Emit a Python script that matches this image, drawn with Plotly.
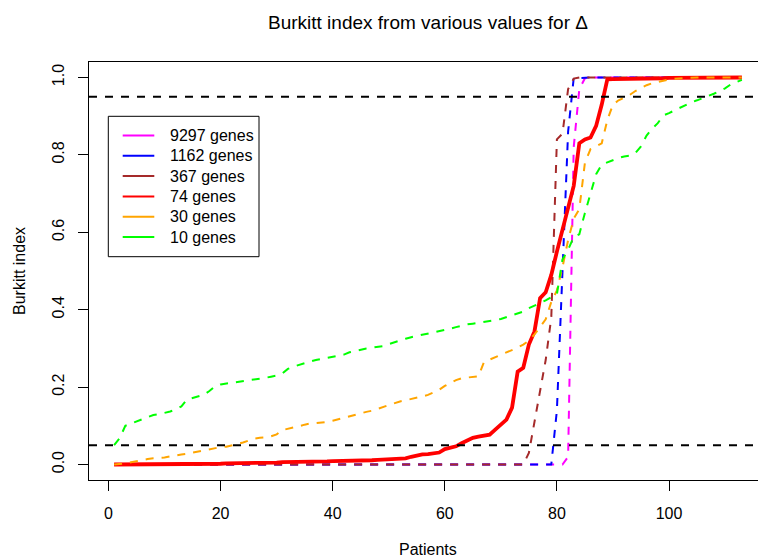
import plotly.graph_objects as go

# ---------------- data ----------------
patients = list(range(1, 114))

gene_labels = ["9297 genes", "1162 genes", "367 genes", "74 genes", "30 genes", "10 genes"]
colors = ["#FF00FF", "#0000FF", "#A52A2A", "#FF0000", "#FFA500", "#00FF00"]

genes_9297 = [
    0.000, 0.000, 0.000, 0.000, 0.000, 0.000, 0.000, 0.000, 0.000, 0.000,
    0.000, 0.000, 0.000, 0.000, 0.000, 0.000, 0.000, 0.000, 0.000, 0.000,
    0.000, 0.000, 0.000, 0.000, 0.000, 0.000, 0.000, 0.000, 0.000, 0.000,
    0.000, 0.000, 0.000, 0.000, 0.000, 0.000, 0.000, 0.000, 0.000, 0.000,
    0.000, 0.000, 0.000, 0.000, 0.000, 0.000, 0.000, 0.000, 0.000, 0.000,
    0.000, 0.000, 0.000, 0.000, 0.000, 0.000, 0.000, 0.000, 0.000, 0.000,
    0.000, 0.000, 0.000, 0.000, 0.000, 0.000, 0.000, 0.000, 0.000, 0.000,
    0.000, 0.000, 0.000, 0.000, 0.000, 0.000, 0.000, 0.000, 0.000, 0.000,
    0.000, 0.020, 0.820, 0.970, 0.998, 1.000, 1.000, 1.000, 1.000, 1.000,
    1.000, 1.000, 1.000, 1.000, 1.000, 1.000, 1.000, 1.000, 1.000, 1.000,
    1.000, 1.000, 1.000, 1.000, 1.000, 1.000, 1.000, 1.000, 1.000, 1.000,
    1.000, 1.000, 1.000,
]

genes_1162 = [
    0.000, 0.000, 0.000, 0.000, 0.000, 0.000, 0.000, 0.000, 0.000, 0.000,
    0.000, 0.000, 0.000, 0.000, 0.000, 0.000, 0.000, 0.000, 0.000, 0.000,
    0.000, 0.000, 0.000, 0.000, 0.000, 0.000, 0.000, 0.000, 0.000, 0.000,
    0.000, 0.000, 0.000, 0.000, 0.000, 0.000, 0.000, 0.000, 0.000, 0.000,
    0.000, 0.000, 0.000, 0.000, 0.000, 0.000, 0.000, 0.000, 0.000, 0.000,
    0.000, 0.000, 0.000, 0.000, 0.000, 0.000, 0.000, 0.000, 0.000, 0.000,
    0.000, 0.000, 0.000, 0.000, 0.000, 0.000, 0.000, 0.000, 0.000, 0.000,
    0.000, 0.000, 0.000, 0.000, 0.000, 0.000, 0.000, 0.000, 0.000, 0.140,
    0.500, 0.860, 0.998, 0.999, 1.000, 1.000, 1.000, 1.000, 1.000, 1.000,
    1.000, 1.000, 1.000, 1.000, 1.000, 1.000, 1.000, 1.000, 1.000, 1.000,
    1.000, 1.000, 1.000, 1.000, 1.000, 1.000, 1.000, 1.000, 1.000, 1.000,
    1.000, 1.000, 1.000,
]

genes_367 = [
    0.000, 0.000, 0.000, 0.000, 0.000, 0.000, 0.000, 0.000, 0.000, 0.000,
    0.000, 0.000, 0.000, 0.000, 0.000, 0.000, 0.000, 0.000, 0.000, 0.000,
    0.000, 0.000, 0.000, 0.000, 0.000, 0.000, 0.000, 0.000, 0.000, 0.000,
    0.000, 0.000, 0.000, 0.000, 0.000, 0.000, 0.000, 0.000, 0.000, 0.000,
    0.000, 0.000, 0.000, 0.000, 0.000, 0.000, 0.000, 0.000, 0.000, 0.000,
    0.000, 0.000, 0.000, 0.000, 0.000, 0.000, 0.000, 0.000, 0.000, 0.000,
    0.000, 0.000, 0.000, 0.000, 0.000, 0.000, 0.000, 0.000, 0.000, 0.000,
    0.000, 0.000, 0.000, 0.000, 0.030, 0.110, 0.180, 0.270, 0.380, 0.840,
    0.855, 0.970, 0.997, 1.000, 1.000, 1.000, 1.000, 1.000, 1.000, 1.000,
    1.000, 1.000, 1.000, 1.000, 1.000, 1.000, 1.000, 1.000, 1.000, 1.000,
    1.000, 1.000, 1.000, 1.000, 1.000, 1.000, 1.000, 1.000, 1.000, 1.000,
    1.000, 1.000, 1.000,
]

genes_74 = [
    0.000, 0.000, 0.000, 0.000, 0.000, 0.000, 0.000, 0.000, 0.001, 0.001,
    0.001, 0.001, 0.001, 0.001, 0.001, 0.002, 0.002, 0.002, 0.002, 0.002,
    0.003, 0.003, 0.003, 0.003, 0.004, 0.004, 0.005, 0.005, 0.005, 0.005,
    0.006, 0.006, 0.006, 0.006, 0.007, 0.007, 0.008, 0.008, 0.008, 0.009,
    0.009, 0.009, 0.010, 0.010, 0.010, 0.011, 0.011, 0.012, 0.013, 0.014,
    0.015, 0.015, 0.016, 0.020, 0.024, 0.026, 0.027, 0.028, 0.031, 0.040,
    0.043, 0.047, 0.055, 0.063, 0.069, 0.072, 0.074, 0.077, 0.090, 0.103,
    0.116, 0.147, 0.240, 0.250, 0.310, 0.344, 0.430, 0.445, 0.490, 0.550,
    0.610, 0.670, 0.720, 0.830, 0.840, 0.845, 0.875, 0.930, 0.995, 0.996,
    0.996, 0.997, 0.997, 0.997, 0.998, 0.998, 0.998, 0.998, 0.998, 0.999,
    0.999, 0.999, 0.999, 0.999, 0.999, 0.999, 1.000, 1.000, 1.000, 1.000,
    1.000, 1.000, 1.000,
]

genes_30 = [
    0.000, 0.001, 0.003, 0.006, 0.009, 0.012, 0.014, 0.016, 0.017, 0.018,
    0.021, 0.024, 0.026, 0.028, 0.031, 0.034, 0.037, 0.040, 0.043, 0.045,
    0.046, 0.049, 0.053, 0.057, 0.063, 0.067, 0.069, 0.070, 0.073, 0.078,
    0.089, 0.092, 0.095, 0.099, 0.103, 0.106, 0.107, 0.108, 0.110, 0.113,
    0.117, 0.122, 0.126, 0.130, 0.133, 0.136, 0.139, 0.144, 0.150, 0.155,
    0.159, 0.163, 0.166, 0.169, 0.172, 0.176, 0.180, 0.186, 0.193, 0.203,
    0.211, 0.218, 0.223, 0.225, 0.226, 0.228, 0.265, 0.271, 0.277, 0.282,
    0.290, 0.296, 0.302, 0.310, 0.320, 0.336, 0.355, 0.375, 0.420, 0.450,
    0.510, 0.580, 0.635, 0.660, 0.780, 0.815, 0.822, 0.830, 0.890, 0.930,
    0.941, 0.948, 0.955, 0.965, 0.973, 0.980, 0.985, 0.989, 0.992, 0.995,
    0.997, 0.998, 0.999, 1.000, 1.000, 1.000, 1.000, 1.000, 1.000, 1.000,
    1.000, 1.000, 1.000,
]

genes_10 = [
    0.050, 0.068, 0.100, 0.106, 0.112, 0.118, 0.124, 0.128, 0.130, 0.133,
    0.137, 0.142, 0.150, 0.168, 0.172, 0.174, 0.180, 0.190, 0.202, 0.207,
    0.209, 0.211, 0.214, 0.216, 0.218, 0.220, 0.221, 0.224, 0.227, 0.230,
    0.235, 0.247, 0.253, 0.258, 0.262, 0.266, 0.270, 0.273, 0.276, 0.279,
    0.281, 0.284, 0.290, 0.294, 0.297, 0.300, 0.302, 0.304, 0.306, 0.311,
    0.316, 0.321, 0.325, 0.329, 0.332, 0.335, 0.338, 0.341, 0.344, 0.348,
    0.351, 0.355, 0.359, 0.362, 0.364, 0.366, 0.368, 0.370, 0.373, 0.376,
    0.381, 0.385, 0.390, 0.395, 0.404, 0.410, 0.418, 0.424, 0.432, 0.440,
    0.530, 0.555, 0.588, 0.595, 0.650, 0.700, 0.750, 0.775, 0.781, 0.786,
    0.792, 0.796, 0.798, 0.805, 0.822, 0.850, 0.868, 0.882, 0.902, 0.908,
    0.915, 0.922, 0.930, 0.936, 0.941, 0.946, 0.951, 0.958, 0.965, 0.972,
    0.982, 0.988, 0.994,
]

threshold_levels = [0.05, 0.95]
x_tick_values = [0, 20, 40, 60, 80, 100]
y_tick_values = [0.0, 0.2, 0.4, 0.6, 0.8, 1.0]
y_tick_labels = ["0.0", "0.2", "0.4", "0.6", "0.8", "1.0"]

title_text = "Burkitt index from various values for \u0394"
x_title = "Patients"
y_title = "Burkitt index"

# ---------------- styling / layout ----------------
FONT = "Liberation Sans, Arial, Helvetica, sans-serif"
W_FIG, H_FIG = 758, 559
ML, MT, MB, MR = 89, 62, 79, 0
PW = W_FIG - ML - MR
PH = H_FIG - MT - MB


def px_x(p):
    return (p - ML) / PW


def px_y(p):
    return (MT + PH - p) / PH


series = [genes_9297, genes_1162, genes_367, genes_74, genes_30, genes_10]
widths = [2, 2, 2, 3.8, 2, 2]
dashes = ["8px,8px", "8px,8px", "8px,8px", "solid", "8px,8px", "8px,8px"]

fig = go.Figure()
for name, vals, col, w, d in zip(gene_labels, series, colors, widths, dashes):
    fig.add_trace(go.Scatter(
        x=patients, y=vals, mode="lines", name=name,
        line=dict(color=col, width=w, dash=d),
        showlegend=False, hoverinfo="skip",
    ))

shapes = []
for lvl in threshold_levels:
    shapes.append(dict(type="line", xref="paper", yref="y", x0=0, x1=1,
                       y0=lvl, y1=lvl, layer="above",
                       line=dict(color="black", width=2, dash="8px,8px")))

# manual legend (R style)
leg_left, leg_right, leg_top, leg_bottom = 108.3, 259, 116.3, 256.7
shapes.append(dict(type="rect", xref="paper", yref="paper",
                   x0=px_x(leg_left), x1=px_x(leg_right),
                   y0=px_y(leg_bottom), y1=px_y(leg_top),
                   fillcolor="white", layer="above",
                   line=dict(color="black", width=1)))
annotations = []
row0, row_step = 135.5, 20.3
for k, (name, col) in enumerate(zip(gene_labels, colors)):
    yy = px_y(row0 + k * row_step)
    shapes.append(dict(type="line", xref="paper", yref="paper",
                       x0=px_x(122.7), x1=px_x(154.3), y0=yy, y1=yy,
                       layer="above", line=dict(color=col, width=2)))
    annotations.append(dict(xref="paper", yref="paper", x=px_x(167.5), y=yy,
                            xanchor="left", yanchor="middle", showarrow=False,
                            text=name, font=dict(family=FONT, size=16, color="black")))

annotations.append(dict(xref="paper", yref="paper", x=px_x(428), y=px_y(549),
                        xanchor="center", yanchor="middle", showarrow=False,
                        text=x_title, font=dict(family=FONT, size=16, color="black")))
annotations.append(dict(xref="paper", yref="paper", x=px_x(19), y=px_y(271),
                        xanchor="center", yanchor="middle", showarrow=False,
                        textangle=-90,
                        text=y_title, font=dict(family=FONT, size=16, color="black")))

fig.update_layout(
    width=W_FIG, height=H_FIG,
    margin=dict(l=ML, r=MR, t=MT, b=MB, pad=0),
    paper_bgcolor="white", plot_bgcolor="white",
    font=dict(family=FONT, size=16, color="black"),
    title=dict(text=title_text, x=428 / W_FIG, xref="container", xanchor="center",
               y=1 - 22 / H_FIG, yref="container", yanchor="middle",
               font=dict(family=FONT, size=19, color="black")),
    shapes=shapes,
    annotations=annotations,
    showlegend=False,
    xaxis=dict(range=[-3.479, -3.479 + PW / 5.605], tickvals=x_tick_values,
               ticks="outside", ticklen=10, tickwidth=1, tickcolor="black",
               showline=True, linecolor="black", linewidth=1, mirror=True,
               showgrid=False, zeroline=False, ticklabelstandoff=9,
               tickfont=dict(family=FONT, size=16, color="black")),
    yaxis=dict(range=[-0.04, 1.04], tickvals=y_tick_values, ticktext=y_tick_labels,
               tickangle=-90, ticks="outside", ticklen=10, tickwidth=1,
               tickcolor="black", showline=True, linecolor="black", linewidth=1,
               showgrid=False, zeroline=False, ticklabelstandoff=8,
               tickfont=dict(family=FONT, size=16, color="black")),
)

fig.write_html("out.html")
